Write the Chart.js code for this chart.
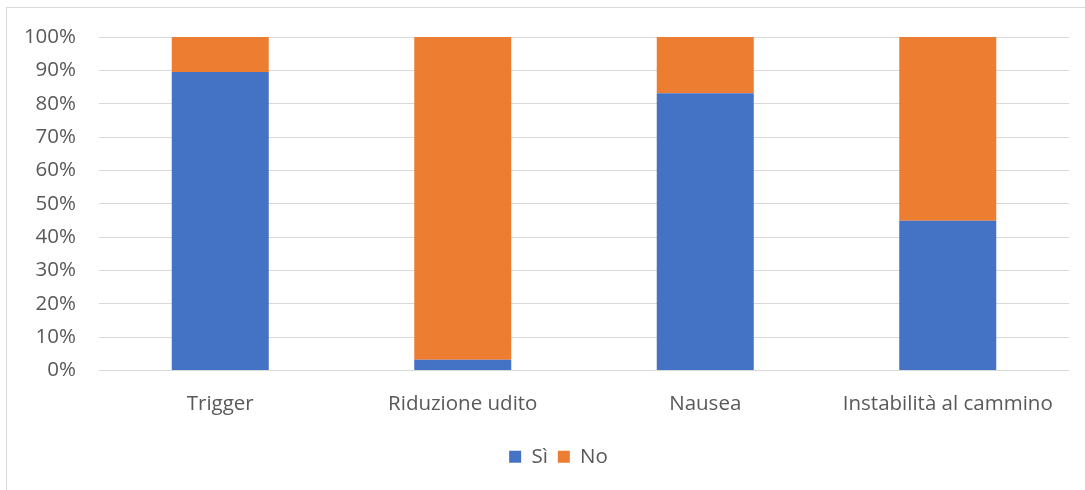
<!DOCTYPE html>
<html>
<head>
<meta charset="utf-8">
<script src="https://cdn.jsdelivr.net/npm/chart.js@4/dist/chart.umd.min.js"></script>
<style>
  html, body { margin: 0; padding: 0; background: #fff; }
  #wrap { position: relative; width: 1085px; height: 490px; overflow: hidden; }
  #frame { position: absolute; left: 6px; top: 7px; width: 1200px; height: 600px; border: 1px solid #d9d9d9; box-sizing: border-box; }
  #myChart { position: absolute; left: 0; top: 0; }
</style>
</head>
<body>
<div id="wrap">
  <div id="frame"></div>
  <canvas id="myChart" width="1085" height="490"></canvas>
</div>
<script>
// categorie e percentuali (Sì + No = 100)
var categorie = ['Trigger', 'Riduzione udito', 'Nausea', 'Instabilità al cammino'];
var si = [89.5, 3.2, 83.1, 44.9];
var no = [10.5, 96.8, 16.9, 55.1];
var tickY = [0, 10, 20, 30, 40, 50, 60, 70, 80, 90, 100];

// la legenda sta centrata sul riquadro intero, un po' spostata a destra
var spostaLegenda = {
    id: 'spostaLegenda',
    afterLayout: function (chart) {
        chart.legend.left += 24;
        chart.legend.right += 24;
    }
};

document.addEventListener("DOMContentLoaded", function () {
    var ctx = document.getElementById('myChart').getContext('2d');
    Chart.defaults.font.family = '"Open Sans", Lato, sans-serif';
    Chart.defaults.color = '#595959';

    new Chart(ctx, {
        type: 'bar',
        data: {
            labels: categorie,
            datasets: [{
                label: 'Sì',
                data: si,
                backgroundColor: '#4472C4',
                borderWidth: 0
            }, {
                label: 'No',
                data: no,
                backgroundColor: '#ED7D31',
                borderWidth: 0
            }]
        },
        options: {
            responsive: false,
            animation: false,
            layout: {
                padding: { left: 0, right: 16, top: 37, bottom: 13 }
            },
            datasets: {
                bar: { categoryPercentage: 1, barPercentage: 0.4 }
            },
            scales: {
                x: {
                    stacked: true,
                    grid: { display: false, drawTicks: false },
                    border: { display: false },
                    ticks: { font: { size: 20.5 }, padding: 21 },
                    afterFit: function (scale) { scale.height = 66; }
                },
                y: {
                    stacked: true,
                    min: 0,
                    max: 100,
                    afterBuildTicks: function (scale) {
                        scale.ticks = tickY.map(function (v) { return { value: v }; });
                    },
                    grid: { color: '#d9d9d9', lineWidth: 1, drawTicks: false },
                    border: { display: false },
                    ticks: {
                        font: { size: 20.5 },
                        padding: 23,
                        callback: function (v) { return v + '%'; }
                    },
                    afterFit: function (scale) { scale.width = 99; }
                }
            },
            plugins: {
                legend: {
                    position: 'bottom',
                    labels: {
                        boxWidth: 12,
                        boxHeight: 12,
                        padding: 10,
                        font: { size: 20.5 }
                    }
                },
                tooltip: { enabled: false }
            }
        },
        plugins: [spostaLegenda]
    });
});
</script>
</body>
</html>
